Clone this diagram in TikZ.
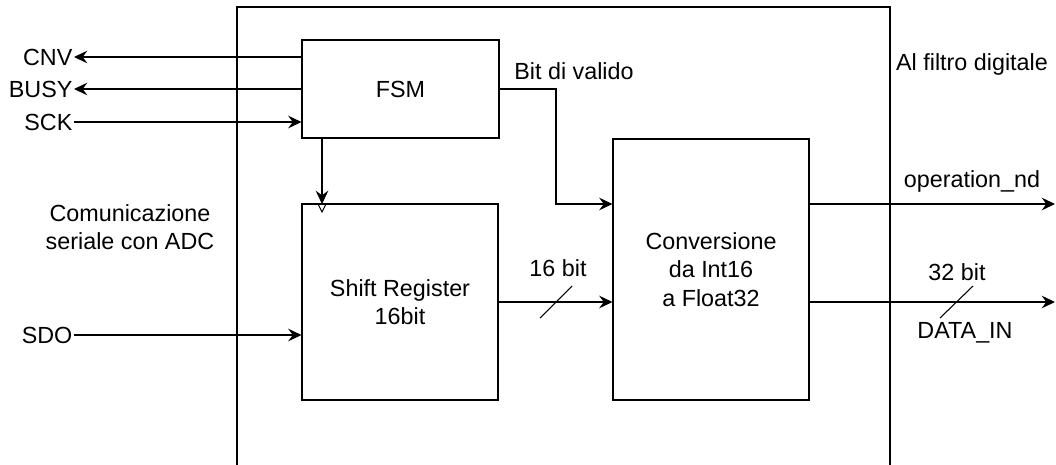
\documentclass[tikz,border=0pt]{standalone}
\usepackage{fontspec}
\setmainfont{Liberation Sans}
\usetikzlibrary{arrows.meta,calc}
\tikzset{
  blk/.style={draw, line width=0.8pt, rectangle, inner sep=0pt, align=center},
  lbl/.style={inner sep=1pt, align=center},
  arr/.style={line width=0.8pt, -{Stealth[length=10pt,width=9.5pt,inset=3.5pt]}},
  wire/.style={line width=0.8pt},
}
\begin{document}
\begin{tikzpicture}[x=0.75pt,y=-0.75pt,font=\fontsize{17.5pt}{21.5pt}\selectfont]
\clip (0,0) rectangle (1056,464);
\useasboundingbox (0,0) rectangle (1056,464);
% outer box (bottom edge outside the picture)
\node[blk, line width=0.9pt, minimum width=489.75pt, minimum height=354.75pt] (outer) at (563.5,243.5) {};
% blocks
\node[blk, minimum width=147.75pt, minimum height=73.5pt] (fsm) at (400.5,89) {FSM};
\node[blk, minimum width=147pt, minimum height=147pt] (shift) at (400,302) {Shift Register\\16bit};
\node[blk, minimum width=147pt, minimum height=195.75pt] (conv) at (711,269.5) {Conversione\\da Int16\\a Float32};
% left labels
\node[lbl, anchor=east] (cnv) at (74,57) {CNV};
\node[lbl, anchor=east] (busy) at (74,89) {BUSY};
\node[lbl, anchor=east] (sck) at (74,122) {SCK};
\node[lbl, anchor=east] (sdo) at (74,335) {SDO};
\node[lbl] (com) at (130,227) {Comunicazione\\seriale con ADC};
% right / other labels
\node[lbl] (bitv) at (574,71) {Bit di valido};
\node[lbl] (b16) at (558,268) {16 bit};
\node[lbl] (filt) at (972,64) {Al filtro digitale};
\node[lbl] (opnd) at (972,181) {operation\_nd};
\node[lbl] (b32) at (957,272) {32 bit};
\node[lbl] (datain) at (965,333) {DATA\_IN};
% coordinates
\coordinate (ck) at (322,204);
\coordinate (vx) at (556,89);
\coordinate (opend) at (1055,204);
\coordinate (dend) at (1055,302);
% connectors
\draw[arr] (fsm.west |- cnv.east) -- (cnv.east);
\draw[arr] (fsm.west |- busy.east) -- (busy.east);
\draw[arr] (sck.east) -- (fsm.west |- sck.east);
\draw[arr] (sdo.east) -- (shift.west |- sdo.east);
\draw[arr] (fsm.south -| ck) -- (ck);
\draw[wire] (318,204) -- (322,212) -- (326,204);
\draw[arr] (fsm.east) -- (vx) |- (conv.west |- opend);
\draw[arr] (shift.east) -- (conv.west |- shift.east);
\draw[wire] (540,318) -- (572,286);
\draw[arr] (conv.east |- opend) -- (opend);
\draw[arr] (conv.east |- dend) -- (dend);
\draw[wire] (940,318) -- (973,286);
\end{tikzpicture}
\end{document}
